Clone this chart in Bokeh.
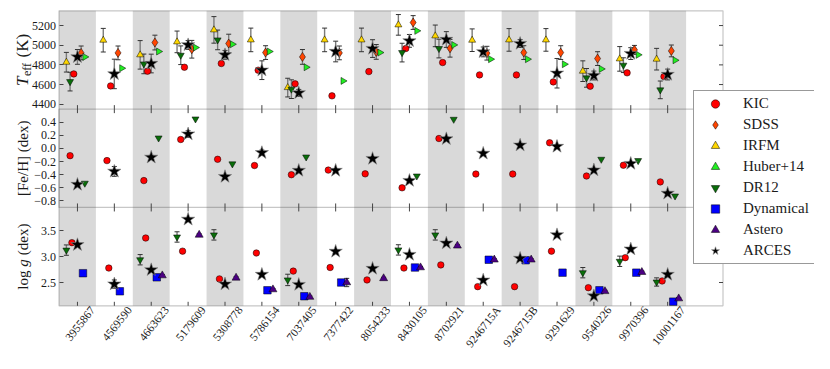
import numpy as np
from math import pi
from bokeh.plotting import figure
from bokeh.models import (Range1d, FixedTicker, BoxAnnotation, Whisker, TeeHead, LinearAxis,
                          ColumnDataSource, Legend, LegendItem, Label)
from bokeh.embed import file_html
from bokeh.resources import INLINE

nan = float("nan")

# ---------------- data ----------------
stars = ["3955867", "4569590", "4663623", "5179609", "5308778", "5786154", "7037405", "7377422",
         "8054233", "8430105", "8702921", "9246715A", "9246715B", "9291629", "9540226", "9970396",
         "10001167"]

kic_teff = [4708, 4586, 4736, 4776, 4814, 4746, 4607, 4485, 4732, 4966, 4824, 4698, 4698, 4627, 4583, 4719, 4681]
sdss_teff = [4922, 4922, 5027, 4959, 5017, 4925, 4881, 4922, 4932, 5231, 4969, 4919, 4925, 4925, 4864, 4953, 4942]
sdss_teff_err = [70, 70, 75, 90, 95, 70, 75, 70, 75, 70, 90, 70, 70, 70, 70, 45, 60]
irfm_teff = [4827, 5051, 4902, 5034, 5156, 5054, 4569, 5054, 5054, 5207, 5095, 5051, 5054, 5054, 4736, 4861, 4858]
irfm_teff_err = [100, 120, 145, 110, 135, 120, 95, 120, 120, 105, 110, 115, 115, 115, 105, 125, 110]
huber_teff = [4881, 4766, 4936, 4976, 5010, 4936, 4776, 4637, 4925, 5146, 5003, 4858, 4858, 4807, 4759, 4902, 4847]
dr12_teff = [4630, nan, 4810, 4898, 5054, nan, 4553, nan, nan, 4925, 4966, nan, nan, nan, 4668, 4797, 4546]
dr12_teff_err = [95, nan, 100, 95, 100, nan, 95, nan, nan, 95, 95, nan, nan, nan, 95, 75, 90]
arces_teff = [4881, 4708, 4814, 5003, 4902, 4746, 4515, 4936, 4966, 5044, 5058, 4932, 5017, 4715, 4692, 4915, 4702]
arces_teff_err = [75, 150, 95, 45, 45, 95, 35, 105, 90, 65, 80, 50, 40, 150, 45, 60, 55]

kic_feh = [-0.11, -0.185, -0.49, 0.137, -0.165, -0.26, -0.40, -0.33, -0.387, -0.60, 0.152, -0.39, -0.39, 0.087, -0.42, -0.256, -0.51]
arces_feh = [-0.55, -0.35, -0.135, 0.22, -0.43, -0.065, -0.336, -0.336, -0.155, -0.49, 0.147, -0.075, 0.05, 0.03, -0.33, -0.23, -0.685]
arces_feh_err = [0.03, 0.075, 0.03, 0.05, 0.03, 0.04, 0.03, 0.03, 0.03, 0.03, 0.03, 0.03, 0.03, 0.03, 0.03, 0.03, 0.03]
dr12_feh = [-0.53, nan, 0.16, 0.45, -0.235, nan, -0.13, nan, nan, -0.42, 0.445, nan, nan, nan, -0.165, -0.185, -0.725]

kic_logg = [3.27, 2.78, 3.36, 3.106, 2.57, 3.07, 2.72, 2.79, 2.55, 2.78, 2.84, 2.42, 2.42, 3.106, 2.40, 2.98, 2.53]
arces_logg = [3.23, 2.47, 2.745, 3.72, 2.47, 2.655, 2.46, 3.10, 2.77, 3.04, 3.26, 2.545, 2.965, 3.42, 2.24, 3.145, 2.655]
arces_logg_err = [0.03, 0.08, 0.03, 0.03, 0.03, 0.03, 0.03, 0.03, 0.03, 0.03, 0.03, 0.03, 0.03, 0.03, 0.03, 0.03, 0.03]
dr12_logg = [3.126, nan, 2.94, 3.38, 3.42, nan, 2.55, nan, nan, 3.13, 3.42, nan, nan, nan, 2.69, 2.91, 2.51]
dr12_logg_err = [0.1, nan, 0.1, 0.1, 0.1, nan, 0.11, nan, nan, 0.1, 0.1, nan, nan, nan, 0.1, 0.1, 0.08]
dyn_logg = [2.68, 2.33, 2.60, nan, nan, 2.35, 2.235, 2.50, nan, 2.79, nan, 2.94, 2.93, 2.69, 2.35, 2.69, 2.13]
astero_logg = [nan, nan, 2.635, 3.42, 2.59, 2.365, 2.22, 2.50, 2.58, 2.79, 3.21, 2.94, 2.94, nan, 2.33, 2.70, 2.19]
astero_logg_err = [nan, nan, 0.02, 0.02, 0.02, 0.02, 0.02, 0.08, 0.02, 0.02, 0.02, 0.02, 0.02, nan, 0.02, 0.02, 0.02]

teff_ticks = [4400, 4600, 4800, 5000, 5200]
teff_tick_labels = ["4400", "4600", "4800", "5000", "5200"]
feh_ticks = [-0.8, -0.6, -0.4, -0.2, 0.0, 0.2, 0.4]
feh_tick_labels = ["\u22120.8", "\u22120.6", "\u22120.4", "\u22120.2", "0.0", "0.2", "0.4"]
logg_ticks = [2.5, 3.0, 3.5]
logg_tick_labels = ["2.5", "3.0", "3.5"]

TEFF_LIM = (4350, 5350)
FEH_LIM = (-0.9, 0.6)
LOGG_LIM = (2.05, 3.95)

# ---------------- layout / styles ----------------
FONT = "Liberation Serif"
AX = "#444444"
TXT = "#1a1a1a"
W, H = 814, 353
n = len(stars)
idx = np.arange(n)

# panel box (composite x: -0.5..17.5, composite y: 0..3) inside a canvas-wide frame
BOX_X0, BOX_X1 = -0.5, 17.5
PX_X = (730.5 - 66.5) / (BOX_X1 - BOX_X0)          # px per category
X_START = BOX_X0 - (66.5 - 8) / PX_X
X_END = BOX_X1 + (8 + W - 730.5) / PX_X
PX_Y = (313.3 - 18.3) / 3.0                         # px per panel
Y_START = 0 - (8 + H - 313.3) / PX_Y
Y_END = 3 + (18.3 - 8) / PX_Y
TICK_X = 4 / PX_Y
TICK_Y = 4 / PX_X
LABEL_SHIFT = 0.41   # visual centring of the rotated category labels

p = figure(width=W, height=H, output_backend="svg", toolbar_location=None,
           x_range=Range1d(X_START, X_END), y_range=Range1d(Y_START, Y_END),
           x_axis_location=None, y_axis_location=None,
           min_border_left=0, min_border_right=0, min_border_top=0, min_border_bottom=0)
p.background_fill_color = "white"
p.border_fill_color = "white"
p.outline_line_color = None
p.xgrid.visible = False
p.ygrid.visible = False

panels = {"teff": (TEFF_LIM, 2), "feh": (FEH_LIM, 1), "logg": (LOGG_LIM, 0)}
for name, ((lo, hi), base) in panels.items():
    span = hi - lo
    p.extra_y_ranges[name] = Range1d(lo + (Y_START - base) * span, lo + (Y_END - base) * span)

# alternating bands
for i in range(0, n, 2):
    p.add_layout(BoxAnnotation(left=i - 0.5, right=i + 0.5, bottom=0, top=3, fill_color="#d9d9d9",
                               fill_alpha=1.0, line_alpha=0, level="underlay"))

# panel frames
p.add_layout(BoxAnnotation(left=BOX_X0, right=BOX_X1, bottom=0, top=3, fill_alpha=0,
                           line_color=AX, line_width=1.2, level="overlay"))
p.add_layout(BoxAnnotation(left=BOX_X0, right=BOX_X1, bottom=1, top=2, fill_alpha=0,
                           line_color=AX, line_width=1.2, level="overlay"))

# y ticks (composite)
ticks, overrides = [], {}
for (name, vals, labs) in [("teff", teff_ticks, teff_tick_labels), ("feh", feh_ticks, feh_tick_labels),
                           ("logg", logg_ticks, logg_tick_labels)]:
    (lo, hi), base = panels[name]
    for v, lab in zip(vals, labs):
        t = base + (v - lo) / (hi - lo)
        ticks.append(t)
        overrides[t] = lab

yax = LinearAxis(fixed_location=BOX_X0, ticker=FixedTicker(ticks=ticks), major_label_overrides=overrides,
                 minor_tick_line_color=None, major_tick_in=4, major_tick_out=0, major_tick_line_color=AX,
                 axis_line_color=None, major_label_text_font=FONT, major_label_text_font_size="12px",
                 major_label_text_color=TXT, major_label_standoff=3)
p.add_layout(yax, "left")

xt = [i + LABEL_SHIFT for i in range(n)]
xax = LinearAxis(fixed_location=0, ticker=FixedTicker(ticks=xt),
                 major_label_overrides={t: s for t, s in zip(xt, stars)},
                 major_label_orientation=0.9, minor_tick_line_color=None, major_tick_line_color=None,
                 major_tick_in=0, major_tick_out=0, axis_line_color=None, major_label_text_font=FONT,
                 major_label_text_font_size="11.5px", major_label_text_color=TXT, major_label_standoff=2)
p.add_layout(xax, "below")

# inward tick marks on panel edges
p.scatter(x=list(idx) * 2, y=[1] * n + [2] * n, marker="dash", angle=pi / 2, size=8,
          line_color=AX, line_width=1)
p.segment(x0=idx, x1=idx, y0=[0] * n, y1=[TICK_X] * n, line_color=AX, line_width=1)
p.segment(x0=[BOX_X1 - TICK_Y] * len(ticks), x1=[BOX_X1] * len(ticks), y0=ticks, y1=ticks,
          line_color=AX, line_width=1)


def errs(rng, offset, vals, ev, head="#333333"):
    y = np.array(vals, float)
    e = np.array(ev, float)
    m = ~(np.isnan(y) | np.isnan(e))
    src = ColumnDataSource(dict(x=(idx + offset)[m], lower=(y - e)[m], upper=(y + e)[m]))
    w = Whisker(source=src, base="x", lower="lower", upper="upper", dimension="height",
                y_range_name=rng, line_color="#7a7a7a", line_width=1.4,
                upper_head=TeeHead(size=5, line_color=head, line_width=1),
                lower_head=TeeHead(size=5, line_color=head, line_width=1))
    p.add_layout(w)


def pts(rng, offset, vals, marker, color, size, line_color="black", lw=0.5, angle=0.0):
    y = np.array(vals, float)
    m = ~np.isnan(y)
    src = ColumnDataSource(dict(x=(idx + offset)[m], y=y[m]))
    return p.scatter("x", "y", source=src, marker=marker, size=size, fill_color=color,
                     line_color=line_color, line_width=lw, angle=angle, y_range_name=rng)


C_KIC, C_SDSS, C_IRFM, C_HUB = "#ff0000", "#ff4500", "#ffd700", "#22ee22"
C_DR12, C_DYN, C_AST, C_ARC = "#0a6e0a", "#0000ff", "#4b0082", "#000000"

# --- Teff panel
errs("teff", 0.1, sdss_teff, sdss_teff_err)
errs("teff", -0.3, irfm_teff, irfm_teff_err)
errs("teff", -0.2, dr12_teff, dr12_teff_err)
errs("teff", 0.0, arces_teff, arces_teff_err)
r_kic = pts("teff", -0.1, kic_teff, "circle", C_KIC, 6.5)
r_sdss = pts("teff", 0.1, sdss_teff, "diamond", C_SDSS, 9)
r_irfm = pts("teff", -0.3, irfm_teff, "triangle", C_IRFM, 7)
r_hub = pts("teff", 0.2, huber_teff, "triangle", C_HUB, 7, angle=-pi / 2)
r_dr12 = pts("teff", -0.2, dr12_teff, "inverted_triangle", C_DR12, 7)
r_arc = pts("teff", 0.0, arces_teff, "star", C_ARC, 14, line_color="#888888", lw=0.6)

# --- [Fe/H] panel
errs("feh", 0.0, arces_feh, arces_feh_err)
pts("feh", -0.2, kic_feh, "circle", C_KIC, 6.5)
pts("feh", 0.2, dr12_feh, "inverted_triangle", C_DR12, 7)
pts("feh", 0.0, arces_feh, "star", C_ARC, 14, line_color="#888888", lw=0.6)

# --- log g panel
errs("logg", -0.3, dr12_logg, dr12_logg_err)
errs("logg", 0.0, arces_logg, arces_logg_err)
errs("logg", 0.3, astero_logg, astero_logg_err)
pts("logg", -0.15, kic_logg, "circle", C_KIC, 6.5)
pts("logg", -0.3, dr12_logg, "inverted_triangle", C_DR12, 7)
r_dyn = pts("logg", 0.15, dyn_logg, "square", C_DYN, 7.5)
r_ast = pts("logg", 0.3, astero_logg, "triangle", C_AST, 8)
pts("logg", 0.0, arces_logg, "star", C_ARC, 14, line_color="#888888", lw=0.6)

# legend
legend = Legend(items=[LegendItem(label="KIC", renderers=[r_kic]),
                       LegendItem(label="SDSS", renderers=[r_sdss]),
                       LegendItem(label="IRFM", renderers=[r_irfm]),
                       LegendItem(label="Huber+14", renderers=[r_hub]),
                       LegendItem(label="DR12", renderers=[r_dr12]),
                       LegendItem(label="Dynamical", renderers=[r_dyn]),
                       LegendItem(label="Astero", renderers=[r_ast]),
                       LegendItem(label="ARCES", renderers=[r_arc])],
                location=(701 - 8, 8 + H - 272.3), label_text_font=FONT, label_text_font_size="15px",
                label_text_color=TXT, padding=2, spacing=0, margin=0,
                glyph_height=21, glyph_width=38, label_standoff=9, label_width=69, label_height=21,
                border_line_color="#333333", border_line_width=1,
                background_fill_color="white", background_fill_alpha=1.0)
p.add_layout(legend)

# ---------------- y-axis titles ----------------
TX = 30 - 8


def lab(text, y, size, style="normal", xoff=0, align="left"):
    p.add_layout(Label(x=TX + xoff, y=y, x_units="screen", y_units="screen", text=text, angle=pi / 2,
                       text_align=align, text_baseline="middle", text_font=FONT, text_font_size=size,
                       text_font_style=style, text_color=TXT))


ytop, ymid, ybot = 8 + H - 67.5, 8 + H - 165.8, 8 + H - 264.2
lab("T", ytop - 26, "17px", "italic")
lab("eff", ytop - 16, "12px", xoff=4)
lab("(K)", ytop + 2.5, "17px")
lab("[Fe/H] (dex)", ymid, "15px", align="center")
lab("log", ybot - 33, "15px")
lab("g", ybot - 10, "15px", "italic")
lab("(dex)", ybot + 1.5, "15px")

open("out.html", "w").write(file_html(p, INLINE))
